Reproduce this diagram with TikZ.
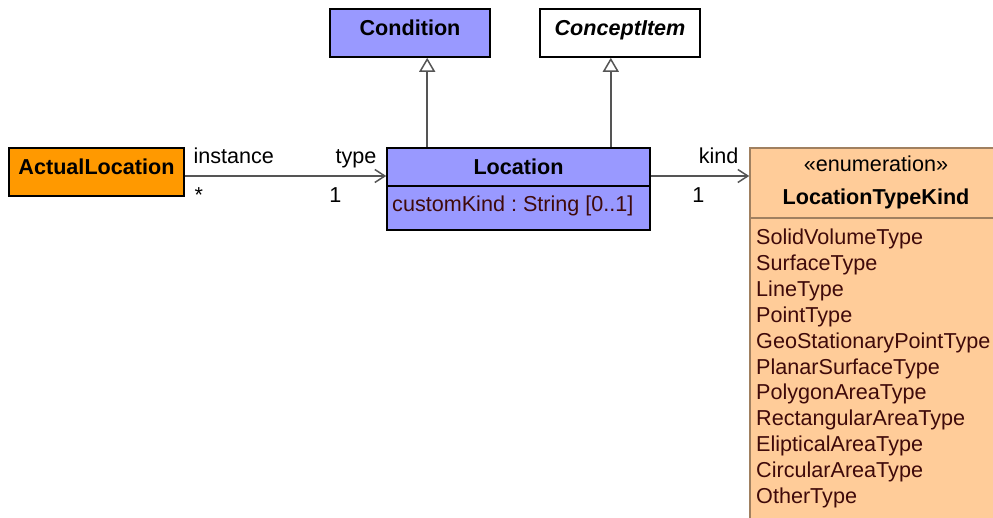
\documentclass[tikz,border=0pt]{standalone}
\usepackage{fontspec}
\setmainfont{Liberation Sans}
\usetikzlibrary{positioning, arrows.meta}
\definecolor{classblue}{HTML}{9999FF}
\definecolor{actualorange}{HTML}{FF9900}
\definecolor{enumpeach}{HTML}{FFCC99}
\definecolor{enumbrown}{HTML}{A08060}
\definecolor{linegray}{HTML}{555555}
\definecolor{attrred}{HTML}{3F0A0A}
\newcommand{\umlsize}{\fontsize{21.6}{26}\selectfont\frenchspacing}
\tikzset{
	classnode/.style={
			rectangle,
			draw=black,
			line width=1.6pt,
			fill=classblue,
			minimum width=160pt,
			minimum height=48pt,
			inner sep=0pt,
			text height=16pt,
			text depth=11pt,
			font=\umlsize\bfseries
		},
	abstractnode/.style={
			classnode,
			fill=white,
			font=\umlsize\bfseries\itshape
		},
	actualnode/.style={
			classnode,
			fill=actualorange,
			minimum width=175pt
		},
	locnode/.style={
			classnode,
			text depth=0pt,
			minimum width=263pt
		},
	enumnode/.style={
			rectangle,
			draw=enumbrown,
			line width=1.6pt,
			fill=enumpeach,
			minimum width=252pt,
			inner sep=0pt
		},
	textnode/.style={
			inner sep=0pt,
			anchor=base,
			font=\umlsize
		},
	attrtext/.style={
			textnode,
			anchor=base west,
			text=attrred
		},
	rolelabel/.style={
			inner sep=0pt,
			text=black,
			font=\umlsize
		},
	assoc/.style={
			draw=linegray,
			line width=1.5pt,
			-{Straight Barb[length=10pt,width=13pt]}
		},
	generalize/.style={
			draw=linegray,
			line width=1.5pt,
			-{Triangle[length=14pt,width=16pt,fill=white]}
		}
}

\begin{document}
\begin{tikzpicture}[x=1pt, y=-1pt]
\useasboundingbox (0,0) rectangle (993,518);
\clip (0,0) rectangle (993,518);

\node[classnode] (cond) at (410,33) {Condition};
\node[abstractnode] (concept) at (620,33) {ConceptItem};
\node[actualnode] (actual) at (96.5,172) {ActualLocation};

% Location class, name and attribute compartment
\node[locnode, minimum height=44pt] (locattr) at (518.5,208) {};
\node[locnode, minimum height=38pt] (loc) at (518.5,167) {Location};
\node[attrtext] (customkind) at (392,212) {customKind : String [0..1]};

% enumeration
\node[enumnode, minimum height=340pt] (enumbody) at (876,388) {};
\node[enumnode, minimum height=70pt] (enumhead) at (876,183) {};
\node[textnode] (enumstereo) at (876,172) {«enumeration»};
\node[textnode, font=\umlsize\bfseries] (enumname) at (876,205) {LocationTypeKind};
\foreach \kindname [count=\i from 0] in {SolidVolumeType, SurfaceType, LineType,
  PointType, GeoStationaryPointType, PlanarSurfaceType, PolygonAreaType,
  RectangularAreaType, ElipticalAreaType, CircularAreaType, OtherType}
  \node[attrtext] (kind\i) at (756,245+25.8*\i) {\kindname};

\coordinate (genone) at ([xshift=41pt]loc.north west);
\coordinate (gentwo) at ([xshift=-40pt]loc.north east);
\draw[generalize] (genone) -- (genone |- cond.south);
\draw[generalize] (gentwo) -- (gentwo |- concept.south);

\draw[assoc] ([yshift=-4pt]actual.east) -- ([yshift=-9pt]loc.west)
  node[rolelabel, pos=0, anchor=base west, xshift=8pt, yshift=12pt] (instlbl) {instance}
  node[rolelabel, pos=0, anchor=base west, xshift=9pt, yshift=-27pt] (instmult) {*}
  node[rolelabel, pos=1, anchor=base east, xshift=-9pt, yshift=12pt] (typelbl) {type}
  node[rolelabel, pos=1, anchor=base east, xshift=-44pt, yshift=-27pt] (typemult) {1};
\draw[assoc] ([yshift=-9pt]loc.east) -- ([yshift=7pt]enumhead.west)
  node[rolelabel, pos=1, anchor=base east, xshift=-10pt, yshift=12pt] (kindlbl) {kind}
  node[rolelabel, pos=1, anchor=base east, xshift=-44pt, yshift=-27pt] (kindmult) {1};

\end{tikzpicture}
\end{document}
